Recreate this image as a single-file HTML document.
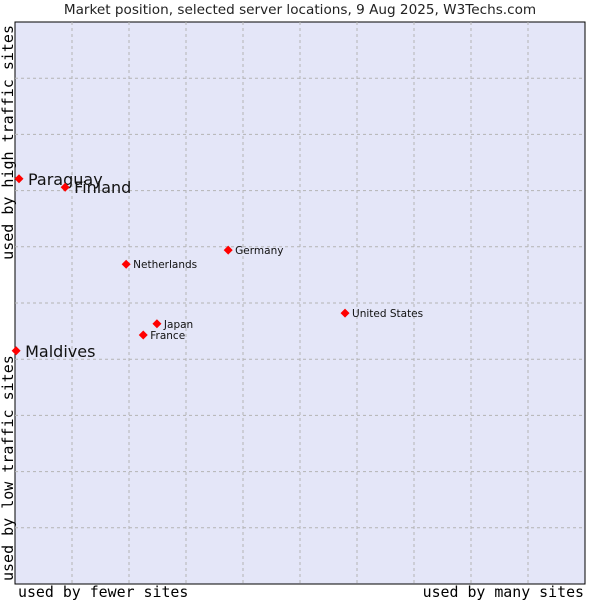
<!DOCTYPE html>
<html><head><meta charset="utf-8"><style>
body{margin:0;background:#fff;width:600px;height:600px;overflow:hidden}
svg text{font-family:"DejaVu Sans",sans-serif}
.mono{font-family:"DejaVu Sans Mono","Liberation Mono",monospace}
</style></head><body>
<svg id="c" width="600" height="600"></svg>
<script>
const names=["Paraguay","Finland","Netherlands","Germany","United States","Japan","France","Maldives"];
const xs=[0.7,8.8,19.5,37.4,57.9,24.9,22.5,0.2];
const ys=[72.1,70.6,56.9,59.4,48.2,46.3,44.3,41.5];
const big=[true,true,false,false,false,false,false,true];
const L=15,T=22,W=570,H=562;
const X=v=>L+v/100*W, Y=v=>T+H-v/100*H;
const s=document.getElementById('c'),NS="http://www.w3.org/2000/svg";
function mk(t,a,p){const e=document.createElementNS(NS,t);for(const k in a)e.setAttribute(k,a[k]);(p||s).appendChild(e);return e;}
let r=mk('rect',{x:L,y:T,width:W,height:H,fill:'#e4e6f8',stroke:'#000','stroke-width':1});

for(let i=1;i<10;i++){
 let g=mk('line',{x1:X(i*10),x2:X(i*10),y1:T,y2:T+H,stroke:'#b4b4b4','stroke-dasharray':'3,3'});
 
 let h=mk('line',{x1:L,x2:L+W,y1:Y(i*10),y2:Y(i*10),stroke:'#b4b4b4','stroke-dasharray':'3,3'});
 
}
let t=mk('text',{x:300,y:14,'text-anchor':'middle','font-size':13.6,fill:'#222'});t.textContent="Market position, selected server locations, 9 Aug 2025, W3Techs.com";

let a=mk('text',{x:18,y:597,'font-size':14.9,class:'mono'});a.textContent="used by fewer sites";

a=mk('text',{x:584,y:597,'font-size':14.9,'text-anchor':'end',class:'mono'});a.textContent="used by many sites";

a=mk('text',{x:0,y:0,'font-size':15,'text-anchor':'start',class:'mono',transform:'translate(13,581) rotate(-90)'});a.textContent="used by low traffic sites";

a=mk('text',{x:0,y:0,'font-size':15,'text-anchor':'end',class:'mono',transform:'translate(13,25) rotate(-90)'});a.textContent="used by high traffic sites";

names.forEach((n,i)=>{
 const cx=X(xs[i]),cy=Y(ys[i]);
 let p=mk('path',{d:`M${cx-4.5},${cy}L${cx},${cy-4.5}L${cx+4.5},${cy}L${cx},${cy+4.5}Z`,fill:'#f00'});
 
 let l=mk('text',{x:cx+(big[i]?9:7),y:cy+(big[i]?6:4),'font-size':big[i]?16:10.5,fill:'#111'});l.textContent=n;
 
});
</script></body></html>
